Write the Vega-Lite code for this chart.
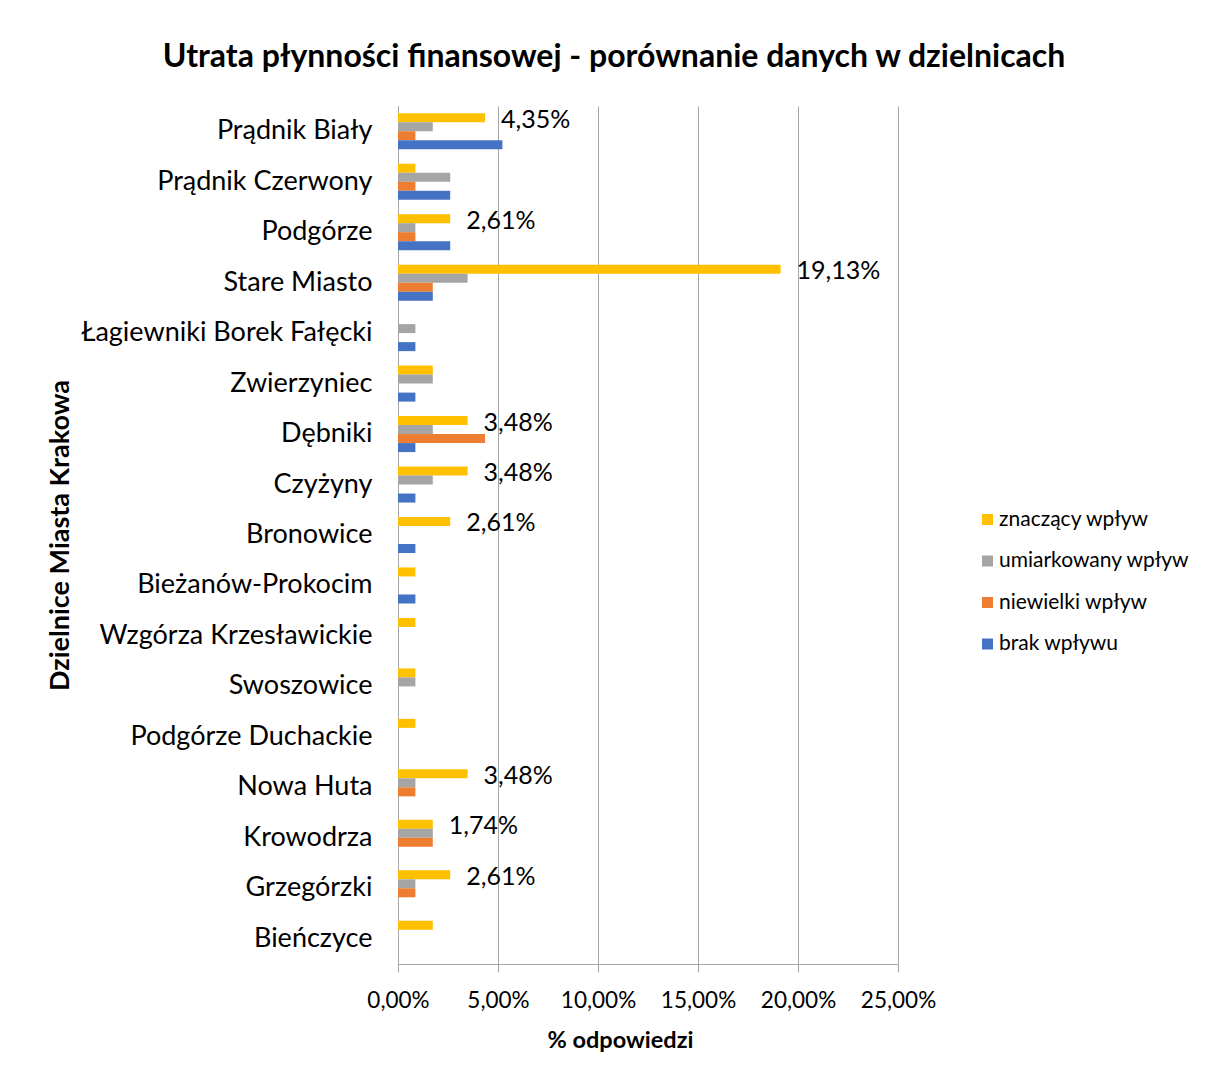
{
  "$schema": "https://vega.github.io/schema/vega-lite/v6.json",
  "width": 500,
  "height": 858,
  "autosize": {"type": "none"},
  "padding": {"left": 398, "top": 106, "right": 310, "bottom": 113},
  "background": "white",
  "config": {
    "font": "Lato",
    "view": {"stroke": null},
    "locale": {"number": {"decimal": ",", "thousands": " ", "grouping": [3], "currency": ["", " zł"]}}
  },
  "title": {
    "text": "Utrata płynności finansowej - porównanie danych w dzielnicach",
    "fontSize": 32,
    "fontWeight": "bold",
    "font": "Lato",
    "color": "#000000",
    "anchor": "middle",
    "dx": -34,
    "baseline": "alphabetic",
    "offset": 7
  },
  "data": {
    "values": [
      {"dzielnica": "Prądnik Biały", "wplyw": "znaczący wpływ", "procent": 0.0435},
      {"dzielnica": "Prądnik Biały", "wplyw": "umiarkowany wpływ", "procent": 0.0174},
      {"dzielnica": "Prądnik Biały", "wplyw": "niewielki wpływ", "procent": 0.0087},
      {"dzielnica": "Prądnik Biały", "wplyw": "brak wpływu", "procent": 0.0522},
      {"dzielnica": "Prądnik Czerwony", "wplyw": "znaczący wpływ", "procent": 0.0087},
      {"dzielnica": "Prądnik Czerwony", "wplyw": "umiarkowany wpływ", "procent": 0.0261},
      {"dzielnica": "Prądnik Czerwony", "wplyw": "niewielki wpływ", "procent": 0.0087},
      {"dzielnica": "Prądnik Czerwony", "wplyw": "brak wpływu", "procent": 0.0261},
      {"dzielnica": "Podgórze", "wplyw": "znaczący wpływ", "procent": 0.0261},
      {"dzielnica": "Podgórze", "wplyw": "umiarkowany wpływ", "procent": 0.0087},
      {"dzielnica": "Podgórze", "wplyw": "niewielki wpływ", "procent": 0.0087},
      {"dzielnica": "Podgórze", "wplyw": "brak wpływu", "procent": 0.0261},
      {"dzielnica": "Stare Miasto", "wplyw": "znaczący wpływ", "procent": 0.1913},
      {"dzielnica": "Stare Miasto", "wplyw": "umiarkowany wpływ", "procent": 0.0348},
      {"dzielnica": "Stare Miasto", "wplyw": "niewielki wpływ", "procent": 0.0174},
      {"dzielnica": "Stare Miasto", "wplyw": "brak wpływu", "procent": 0.0174},
      {"dzielnica": "Łagiewniki Borek Fałęcki", "wplyw": "znaczący wpływ", "procent": 0},
      {"dzielnica": "Łagiewniki Borek Fałęcki", "wplyw": "umiarkowany wpływ", "procent": 0.0087},
      {"dzielnica": "Łagiewniki Borek Fałęcki", "wplyw": "niewielki wpływ", "procent": 0},
      {"dzielnica": "Łagiewniki Borek Fałęcki", "wplyw": "brak wpływu", "procent": 0.0087},
      {"dzielnica": "Zwierzyniec", "wplyw": "znaczący wpływ", "procent": 0.0174},
      {"dzielnica": "Zwierzyniec", "wplyw": "umiarkowany wpływ", "procent": 0.0174},
      {"dzielnica": "Zwierzyniec", "wplyw": "niewielki wpływ", "procent": 0},
      {"dzielnica": "Zwierzyniec", "wplyw": "brak wpływu", "procent": 0.0087},
      {"dzielnica": "Dębniki", "wplyw": "znaczący wpływ", "procent": 0.0348},
      {"dzielnica": "Dębniki", "wplyw": "umiarkowany wpływ", "procent": 0.0174},
      {"dzielnica": "Dębniki", "wplyw": "niewielki wpływ", "procent": 0.0435},
      {"dzielnica": "Dębniki", "wplyw": "brak wpływu", "procent": 0.0087},
      {"dzielnica": "Czyżyny", "wplyw": "znaczący wpływ", "procent": 0.0348},
      {"dzielnica": "Czyżyny", "wplyw": "umiarkowany wpływ", "procent": 0.0174},
      {"dzielnica": "Czyżyny", "wplyw": "niewielki wpływ", "procent": 0},
      {"dzielnica": "Czyżyny", "wplyw": "brak wpływu", "procent": 0.0087},
      {"dzielnica": "Bronowice", "wplyw": "znaczący wpływ", "procent": 0.0261},
      {"dzielnica": "Bronowice", "wplyw": "umiarkowany wpływ", "procent": 0},
      {"dzielnica": "Bronowice", "wplyw": "niewielki wpływ", "procent": 0},
      {"dzielnica": "Bronowice", "wplyw": "brak wpływu", "procent": 0.0087},
      {"dzielnica": "Bieżanów-Prokocim", "wplyw": "znaczący wpływ", "procent": 0.0087},
      {"dzielnica": "Bieżanów-Prokocim", "wplyw": "umiarkowany wpływ", "procent": 0},
      {"dzielnica": "Bieżanów-Prokocim", "wplyw": "niewielki wpływ", "procent": 0},
      {"dzielnica": "Bieżanów-Prokocim", "wplyw": "brak wpływu", "procent": 0.0087},
      {"dzielnica": "Wzgórza Krzesławickie", "wplyw": "znaczący wpływ", "procent": 0.0087},
      {"dzielnica": "Wzgórza Krzesławickie", "wplyw": "umiarkowany wpływ", "procent": 0},
      {"dzielnica": "Wzgórza Krzesławickie", "wplyw": "niewielki wpływ", "procent": 0},
      {"dzielnica": "Wzgórza Krzesławickie", "wplyw": "brak wpływu", "procent": 0},
      {"dzielnica": "Swoszowice", "wplyw": "znaczący wpływ", "procent": 0.0087},
      {"dzielnica": "Swoszowice", "wplyw": "umiarkowany wpływ", "procent": 0.0087},
      {"dzielnica": "Swoszowice", "wplyw": "niewielki wpływ", "procent": 0},
      {"dzielnica": "Swoszowice", "wplyw": "brak wpływu", "procent": 0},
      {"dzielnica": "Podgórze Duchackie", "wplyw": "znaczący wpływ", "procent": 0.0087},
      {"dzielnica": "Podgórze Duchackie", "wplyw": "umiarkowany wpływ", "procent": 0},
      {"dzielnica": "Podgórze Duchackie", "wplyw": "niewielki wpływ", "procent": 0},
      {"dzielnica": "Podgórze Duchackie", "wplyw": "brak wpływu", "procent": 0},
      {"dzielnica": "Nowa Huta", "wplyw": "znaczący wpływ", "procent": 0.0348},
      {"dzielnica": "Nowa Huta", "wplyw": "umiarkowany wpływ", "procent": 0.0087},
      {"dzielnica": "Nowa Huta", "wplyw": "niewielki wpływ", "procent": 0.0087},
      {"dzielnica": "Nowa Huta", "wplyw": "brak wpływu", "procent": 0},
      {"dzielnica": "Krowodrza", "wplyw": "znaczący wpływ", "procent": 0.0174},
      {"dzielnica": "Krowodrza", "wplyw": "umiarkowany wpływ", "procent": 0.0174},
      {"dzielnica": "Krowodrza", "wplyw": "niewielki wpływ", "procent": 0.0174},
      {"dzielnica": "Krowodrza", "wplyw": "brak wpływu", "procent": 0},
      {"dzielnica": "Grzegórzki", "wplyw": "znaczący wpływ", "procent": 0.0261},
      {"dzielnica": "Grzegórzki", "wplyw": "umiarkowany wpływ", "procent": 0.0087},
      {"dzielnica": "Grzegórzki", "wplyw": "niewielki wpływ", "procent": 0.0087},
      {"dzielnica": "Grzegórzki", "wplyw": "brak wpływu", "procent": 0},
      {"dzielnica": "Bieńczyce", "wplyw": "znaczący wpływ", "procent": 0.0174},
      {"dzielnica": "Bieńczyce", "wplyw": "umiarkowany wpływ", "procent": 0},
      {"dzielnica": "Bieńczyce", "wplyw": "niewielki wpływ", "procent": 0},
      {"dzielnica": "Bieńczyce", "wplyw": "brak wpływu", "procent": 0}
    ]
  },
  "encoding": {
    "y": {
      "field": "dzielnica",
      "type": "nominal",
      "sort": null,
      "scale": {"paddingInner": 0.286, "paddingOuter": 0.143},
      "axis": {
        "title": "Dzielnice Miasta Krakowa",
        "titleFontSize": 27,
        "titleFontWeight": "bold",
        "titleColor": "#000000",
        "titleAngle": -90,
        "titleAlign": "center",
        "titleBaseline": "middle",
        "titleX": -338,
        "titleY": 429,
        "labelFontSize": 27,
        "labelColor": "#000000",
        "labelPadding": 26,
        "labelLimit": 400,
        "ticks": false,
        "tickSize": 0,
        "domainColor": "#A6A6A6",
        "domainWidth": 1
      }
    },
    "yOffset": {
      "field": "wplyw",
      "type": "nominal",
      "sort": ["znaczący wpływ", "umiarkowany wpływ", "niewielki wpływ", "brak wpływu"]
    }
  },
  "layer": [
    {
      "mark": {"type": "bar"},
      "encoding": {
        "x": {
          "field": "procent",
          "type": "quantitative",
          "scale": {"domain": [0, 0.25], "nice": false},
          "axis": {
            "title": "% odpowiedzi",
            "titleFontSize": 23.5,
            "titleFontWeight": "bold",
            "titleColor": "#000000",
            "titleBaseline": "alphabetic",
            "titleX": 222,
            "titleY": 83,
            "format": ".2%",
            "values": [0, 0.05, 0.1, 0.15, 0.2, 0.25],
            "labelOverlap": false,
            "labelFlush": false,
            "labelAlign": "center",
            "labelFontSize": 22.5,
            "labelColor": "#000000",
            "labelBaseline": "alphabetic",
            "labelPadding": 35,
            "tickSize": 8,
            "tickColor": "#A6A6A6",
            "domainColor": "#A6A6A6",
            "grid": true,
            "gridColor": "#A6A6A6",
            "gridWidth": 1
          }
        },
        "color": {
          "field": "wplyw",
          "type": "nominal",
          "scale": {
            "domain": ["znaczący wpływ", "umiarkowany wpływ", "niewielki wpływ", "brak wpływu"],
            "range": ["#FFC000", "#A5A5A5", "#ED7D31", "#4472C4"]
          },
          "legend": {
            "title": null,
            "orient": "none",
            "legendX": 579,
            "legendY": 403,
            "padding": 0,
            "symbolType": "square",
            "symbolSize": 121,
            "symbolStrokeWidth": 0,
            "labelFontSize": 21,
            "labelColor": "#000000",
            "labelOffset": 1,
            "rowPadding": 19.5,
            "labelLimit": 300
          }
        }
      }
    },
    {
      "transform": [
        {"filter": "datum.wplyw === 'znaczący wpływ' && indexof(['Prądnik Biały','Podgórze','Stare Miasto','Dębniki','Czyżyny','Bronowice','Nowa Huta','Krowodrza','Grzegórzki'], datum.dzielnica) >= 0"}
      ],
      "mark": {"type": "text", "align": "left", "baseline": "middle", "dx": 16, "dy": 2, "fontSize": 25, "color": "#000000"},
      "encoding": {
        "x": {"field": "procent", "type": "quantitative"},
        "text": {"field": "procent", "type": "quantitative", "format": ".2%"}
      }
    }
  ]
}
